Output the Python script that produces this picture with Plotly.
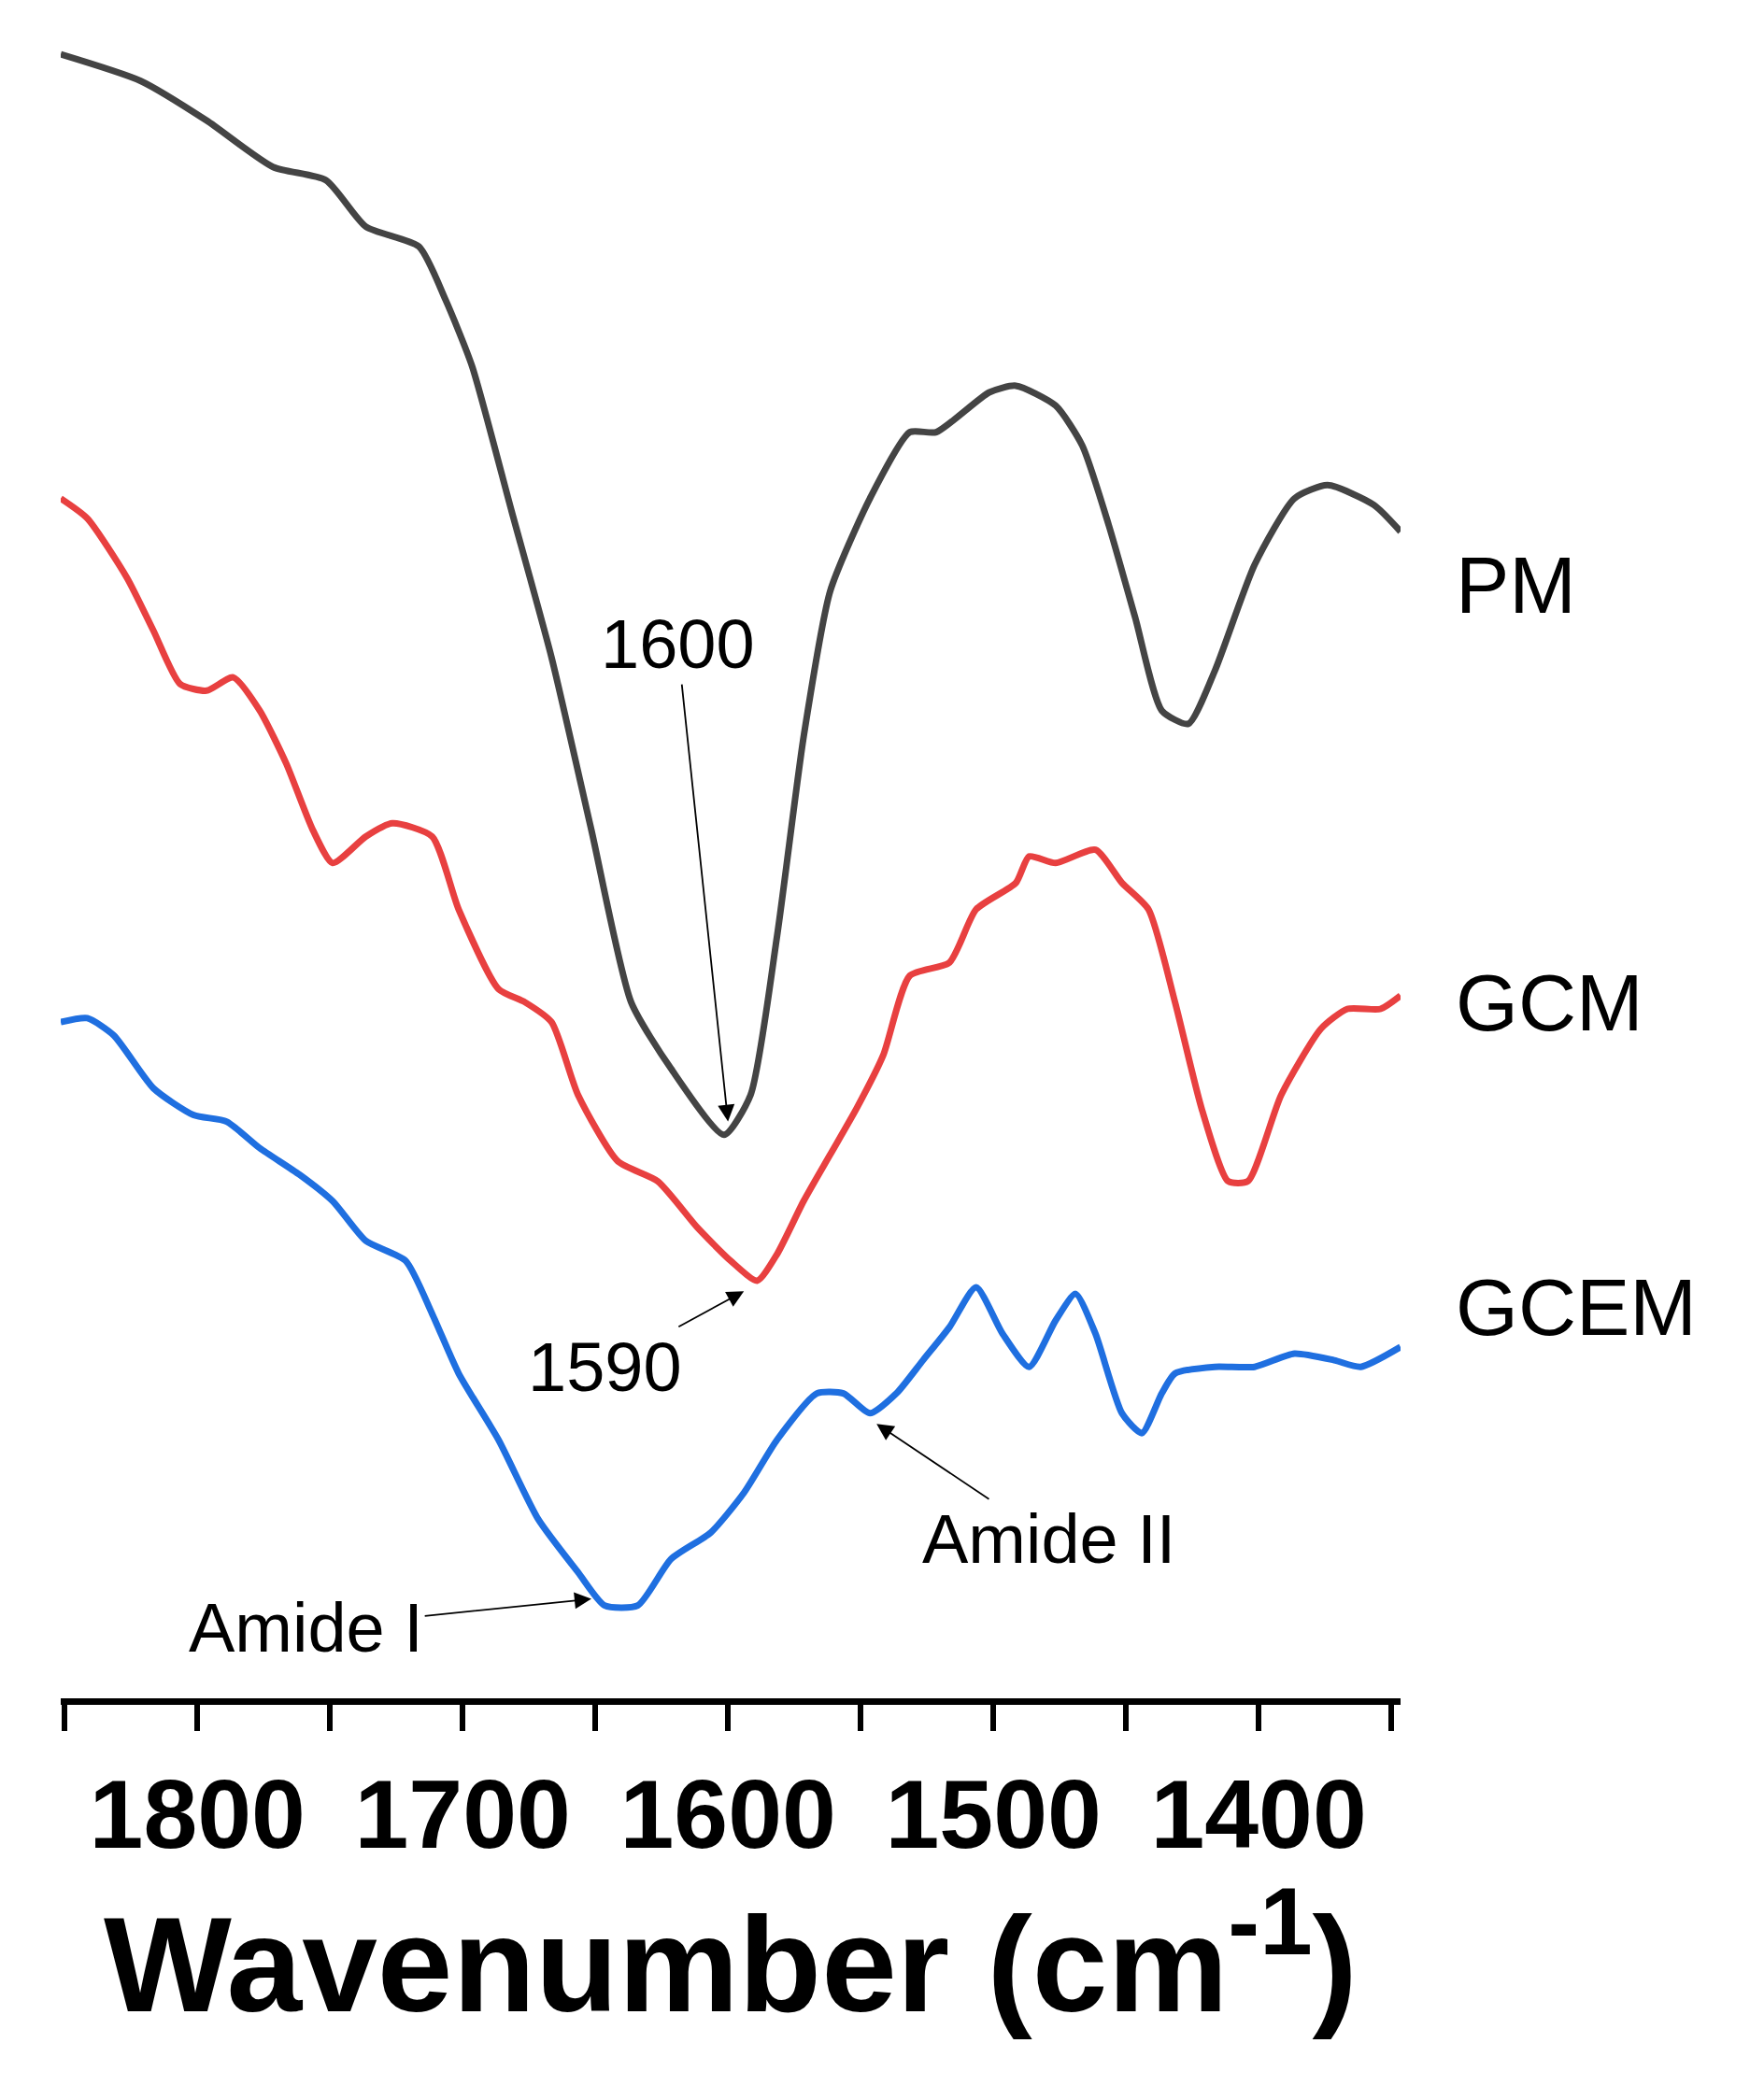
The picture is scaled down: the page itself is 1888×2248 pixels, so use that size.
import plotly.graph_objects as go

def wn(px): return [1851.5 - (p - 40) / 2 for p in px]

pm_px = [40,100,150,200,240,270,310,330,350,380,410,440,470,500,540,560,580,600,620,650,680,700,740,760,790,810,830,850,870,890,910,940,970,995,1030,1050]
pm_y = [35,55,85,120,130,165,180,220,270,380,490,620,750,800,850,820,700,550,440,370,320,320,290,285,300,330,390,460,530,540,500,420,370,360,375,395]
gcm_px = [40,60,90,110,130,150,170,190,210,230,245,270,290,320,340,370,390,410,430,460,490,520,545,565,580,600,620,640,660,680,710,730,760,770,790,820,840,860,880,900,920,935,960,990,1010,1035,1050]
gcm_y = [370,385,430,470,510,515,505,530,570,620,645,625,615,625,680,740,750,765,820,870,885,920,945,960,940,900,865,830,790,730,720,680,660,640,645,635,660,680,750,830,885,885,820,770,755,755,745]
gcem_px = [40,60,80,110,140,165,190,220,245,270,300,320,340,370,400,430,450,475,500,530,555,580,610,630,650,670,690,710,730,750,770,790,805,820,840,855,870,880,910,940,970,1000,1020,1050]
gcem_y = [765,762,775,815,835,840,860,880,900,930,945,985,1030,1080,1140,1180,1205,1205,1170,1150,1120,1080,1045,1045,1060,1045,1020,995,965,1000,1025,990,970,1000,1060,1075,1045,1030,1025,1025,1015,1020,1025,1010]

series = [("PM", pm_px, pm_y, "#444444"), ("GCM", gcm_px, gcm_y, "#e84040"), ("GCEM", gcem_px, gcem_y, "#1f6fe0")]
labels = [("PM", 1090, 400), ("GCM", 1090, 750), ("GCEM", 1090, 1015)]
arrows = [("1600", 505, 480, 543, 840), ("1590", 450, 1025, 555, 968), ("Amide II", 785, 1155, 655, 1068), ("Amide I", 225, 1222, 440, 1200)]

FONT = "Arial, Liberation Sans"
fig = go.Figure()
for name, px, y, c in series:
    fig.add_trace(go.Scatter(x=wn(px), y=[-v for v in y], mode="lines",
                             line=dict(color=c, width=7, shape="spline", smoothing=0.6), name=name))

for t, px, py in labels:
    fig.add_annotation(x=(px - 40) / 1010, y=(1275 - py) / 1245, text=t, showarrow=False, xref="paper", yref="paper",
                       xanchor="left", font=dict(size=86, color="black", family=FONT))
for t, tx, ty, hx, hy in arrows:
    fig.add_annotation(x=wn([hx])[0], y=-hy, ax=wn([tx])[0], ay=-ty, axref="x", ayref="y",
                       text=t, showarrow=True, arrowhead=2, arrowsize=2, arrowwidth=1.8, arrowcolor="black",
                       font=dict(size=74, color="black", family=FONT))

fig.update_layout(
    width=1888, height=2248, plot_bgcolor="white", paper_bgcolor="white", showlegend=False,
    margin=dict(l=57, r=397, t=43, b=438),
    xaxis=dict(range=[1851.5, 1346.5], showgrid=False, zeroline=False, showline=True, linecolor="black", linewidth=7,
               ticks="outside", ticklen=28, tickwidth=6, tickcolor="black", tickvals=[1800, 1700, 1600, 1500, 1400],
               tickfont=dict(size=104, family=FONT, color="black", weight="bold"),
               minor=dict(tickvals=[1850, 1750, 1650, 1550, 1450, 1350], ticks="outside", ticklen=28, tickwidth=6, tickcolor="black"),
               title=dict(text="Wavenumber (cm<sup>-1</sup>)", font=dict(size=145, family=FONT, color="black", weight="bold"), standoff=25)),
    yaxis=dict(range=[-1275, -30], visible=False),
)
fig.write_html("out.html")
